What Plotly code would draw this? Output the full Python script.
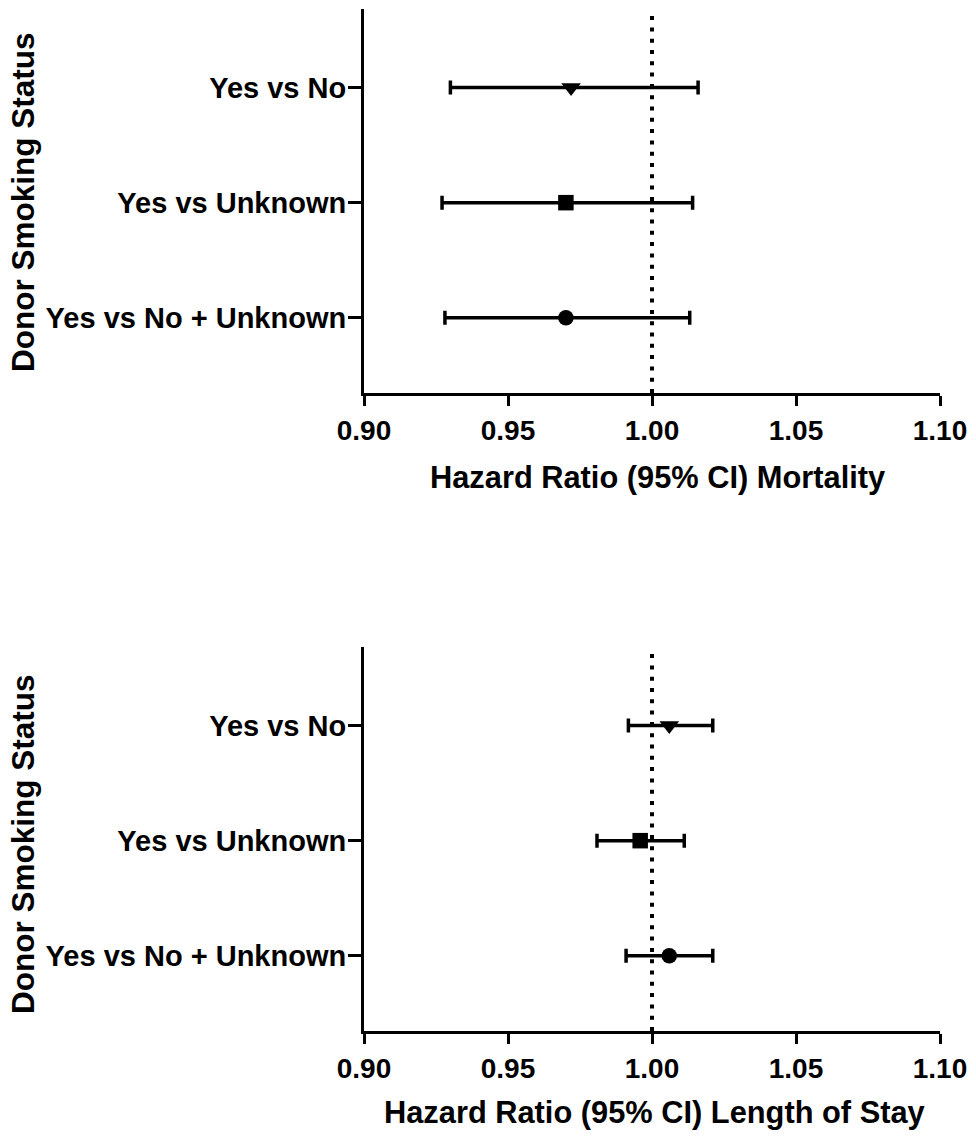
import plotly.graph_objects as go

categories = ["Yes vs No", "Yes vs Unknown", "Yes vs No + Unknown"]
symbols = ["triangle-down", "square", "circle"]
sizes = [17, 15.5, 15.5]

mort_hr = [0.9719, 0.9701, 0.9701]
mort_lo = [0.9300, 0.9271, 0.9281]
mort_hi = [1.0160, 1.0141, 1.0131]

los_hr = [1.0060, 0.9959, 1.0060]
los_lo = [0.9918, 0.9809, 0.9910]
los_hi = [1.0211, 1.0112, 1.0211]

x_ticks = [0.90, 0.95, 1.00, 1.05, 1.10]
x_ticktext = ["0.90", "0.95", "1.00", "1.05", "1.10"]

x_title_top = "Hazard Ratio (95% CI) Mortality"
x_title_bottom = "Hazard Ratio (95% CI) Length of Stay"
y_title = "Donor Smoking Status"

W, H = 976, 1138
FONT = "Liberation Sans, Arial, sans-serif"

fig = go.Figure()

def add_panel(hr, lo, hi, xa, ya):
    for i, cat in enumerate(categories):
        fig.add_trace(go.Scatter(
            x=[hr[i]], y=[cat], mode="markers",
            marker=dict(symbol=symbols[i], size=sizes[i], color="black",
                        line=dict(width=0)),
            error_x=dict(type="data", symmetric=False,
                         array=[hi[i] - hr[i]], arrayminus=[hr[i] - lo[i]],
                         color="black", thickness=3.5, width=7),
            xaxis=xa, yaxis=ya, showlegend=False, hoverinfo="skip"))

add_panel(mort_hr, mort_lo, mort_hi, "x", "y")
add_panel(los_hr, los_lo, los_hi, "x2", "y2")

xdom = [364 / W, 940 / W]
dom_top = [1 - 393 / H, 1 - 9 / H]
dom_bot = [1 - 1031 / H, 1 - 647 / H]

tickfont = dict(family=FONT, size=28, color="black", weight="bold")
catfont = dict(family=FONT, size=29, color="black", weight="bold")

xaxis_common = dict(range=[0.9, 1.1], tickvals=x_ticks, ticktext=x_ticktext,
                    showgrid=False, zeroline=False, showline=True,
                    linecolor="black", linewidth=3, ticks="outside",
                    ticklen=10, tickwidth=3, tickcolor="black",
                    tickfont=tickfont, domain=xdom, fixedrange=True,
                    automargin=False)
yaxis_common = dict(type="category", categoryarray=categories[::-1],
                    range=[-0.654, 2.683], showgrid=False, zeroline=False,
                    showline=True, linecolor="black", linewidth=3,
                    ticks="outside", ticklen=13, tickwidth=3,
                    tickcolor="black", tickfont=catfont, fixedrange=True,
                    automargin=False, ticklabelstandoff=-4)

fig.update_layout(
    template="none",
    width=W, height=H, margin=dict(l=0, r=0, t=0, b=0, pad=0),
    autosize=False,
    paper_bgcolor="white", plot_bgcolor="white",
    xaxis=dict(**xaxis_common, anchor="y"),
    yaxis=dict(**yaxis_common, domain=dom_top, anchor="x"),
    xaxis2=dict(**xaxis_common, anchor="y2"),
    yaxis2=dict(**yaxis_common, domain=dom_bot, anchor="x2"),
)

for xr, yr in (("x", "y domain"), ("x2", "y2 domain")):
    fig.add_shape(type="line", xref=xr, yref=yr, x0=1.0, x1=1.0, y0=0, y1=1,
                  line=dict(color="black", width=4, dash="4px,7.3px"),
                  layer="below")

xtitlefont = dict(family=FONT, size=30.8, color="black", weight="bold")
ytitlefont = dict(family=FONT, size=31.5, color="black", weight="bold")
ann = [
    dict(text=x_title_top, x=657 / W, y=1 - 478 / H, xanchor="center",
         yanchor="middle", font=xtitlefont),
    dict(text=x_title_bottom, x=654 / W, y=1 - 1112 / H, xanchor="center",
         yanchor="middle", font=xtitlefont),
    dict(text=y_title, x=23 / W, y=1 - 202 / H, xanchor="center",
         yanchor="middle", textangle=-90, font=ytitlefont),
    dict(text=y_title, x=23 / W, y=1 - 844 / H, xanchor="center",
         yanchor="middle", textangle=-90, font=ytitlefont),
]
for a in ann:
    fig.add_annotation(xref="paper", yref="paper", showarrow=False, **a)

fig.write_html("out.html")
